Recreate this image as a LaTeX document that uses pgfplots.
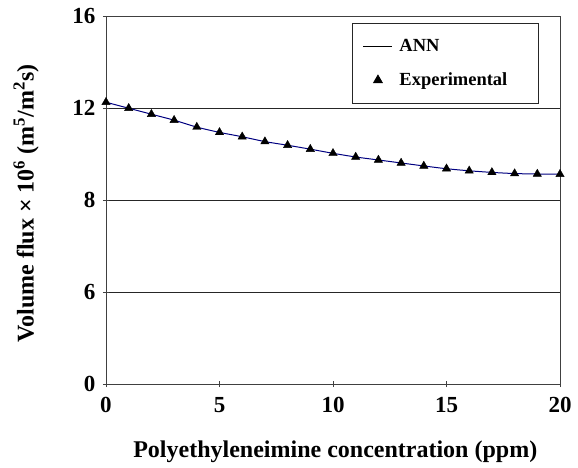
\documentclass[border=0pt]{standalone}
\usepackage{pgfplots}
\pgfplotsset{compat=1.18}
\usepackage{fontspec}
\setmainfont{Liberation Serif}
\begin{document}
\begin{tikzpicture}
\path[use as bounding box] (-106bp,-84bp) rectangle (472bp,384bp);
\begin{axis}[
  at={(0,0)}, anchor=south west,
  scale only axis, width=454bp, height=368bp,
  xmin=0, xmax=20, ymin=0, ymax=16,
  xtick={0,5,10,15,20},
  ytick={0,4,8,12,16}, yticklabels={0,6,8,12,16},
  xtick pos=bottom, ytick pos=left,
  /pgf/number format/assume math mode=true,
  ymajorgrids, grid style={black!85, line width=0.8pt},
  axis line style={black!75, line width=0.8pt},
  tick style={black!75, line width=0.8pt},
  major tick length=6bp,
  tick align=center,
  ticklabel style={font=\fontsize{23bp}{27bp}\selectfont\bfseries},
  xticklabel style={yshift=-7bp},
  yticklabel style={xshift=-4bp},
  label style={font=\fontsize{24bp}{28bp}\selectfont\bfseries},
  xlabel={Polyethyleneimine concentration (ppm)},
  ylabel={Volume flux × 10\textsuperscript{6} (m\textsuperscript{5}/m\textsuperscript{2}s)},
  xlabel style={at={(axis description cs:0.505,-0.185)}, anchor=center},
  ylabel style={at={(axis description cs:-0.176,0.49)}, anchor=center},
  legend style={at={(axis cs:10.84,15.7)}, anchor=north west,
    draw=black!85, line width=0.8pt, fill=white,
    font=\fontsize{18.5bp}{22bp}\selectfont\bfseries,
    inner xsep=6bp, inner ysep=14bp, row sep=16bp},
  legend cell align=left,
]
\addplot[color={rgb,255:red,0;green,0;blue,128}, line width=1pt, smooth, no marks,
  legend image code/.code={\path[draw=none] (0bp,0bp) -- (39bp,0bp); \draw[black, line width=0.8pt] (5bp,0bp) -- (34bp,0bp);}]
  coordinates {(0,12.25) (1,11.99) (2,11.73) (3,11.47) (4,11.17) (5,10.94)
   (6,10.75) (7,10.54) (8,10.38) (9,10.21) (10,10.03) (11,9.87) (12,9.74)
   (13,9.61) (14,9.48) (15,9.36) (16,9.27) (17,9.20) (18,9.15) (19,9.13) (20,9.12)};
\addlegendentry{ANN}
\addplot[only marks, mark=triangle*, mark size=4.8bp, black,
  legend image code/.code={\path[draw=none] (0bp,0bp) -- (39bp,0bp); \draw[black, fill=black] plot[mark=triangle*, mark size=5bp] coordinates {(19.5bp,0bp)};}]
  coordinates {(0,12.25) (1,11.99) (2,11.73) (3,11.47) (4,11.17) (5,10.94)
   (6,10.75) (7,10.54) (8,10.38) (9,10.21) (10,10.03) (11,9.87) (12,9.74)
   (13,9.61) (14,9.48) (15,9.36) (16,9.27) (17,9.20) (18,9.15) (19,9.13) (20,9.12)};
\addlegendentry{Experimental\rule{23bp}{0bp}}
\end{axis}
\end{tikzpicture}
\end{document}
